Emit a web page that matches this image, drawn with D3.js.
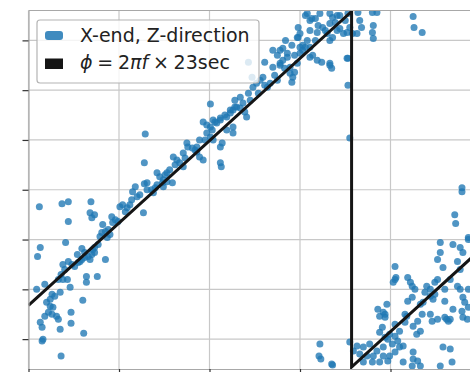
<!DOCTYPE html>
<html>
<head>
<meta charset="utf-8">
<script src="https://cdn.jsdelivr.net/npm/d3@7"></script>
<style>
  html, body { margin: 0; padding: 0; background: #fff; }
  svg { display: block; font-family: 'DejaVu Sans', sans-serif; }
</style>
</head>
<body>
<div id="chart"></div>
<script>
// Frequency (mHz) and measured phase (deg) of the X-end, Z-direction scatter.
const freqMHz = [
  31.2, 33.7, 34.4, 36.9, 34.4, 36.8, 37.3, 37.0, 41.8, 42.8, 31.3, 31.0, 34.1, 35.9, 37.1, 38.5,
  37.6, 36.4, 36.4, 34.6, 30.9, 31.8, 36.0, 34.7, 34.7, 36.1, 33.6, 31.6, 31.5, 31.3, 31.5, 33.5,
  32.6, 32.9, 32.0, 32.4, 32.7, 32.2, 32.6, 33.1, 33.3, 31.8, 33.5, 33.8, 34.4, 34.8, 35.1, 35.5,
  35.9, 36.2, 36.6, 37.0, 37.3, 36.2, 36.8, 35.4, 33.8, 33.3, 34.3, 33.6, 37.7, 37.9, 38.1, 38.5,
  38.8, 39.0, 39.3, 39.6, 39.2, 38.2, 40.1, 40.4, 40.9, 41.4, 42.0, 42.3, 42.7, 43.1, 43.6, 43.8,
  44.2, 44.8, 45.3, 45.9, 44.9, 44.0, 41.5,
  50.1, 42.9, 42.8, 51.2, 51.4, 51.2, 51.3, 49.3, 49.7, 50.4, 50.8, 51.2, 51.7, 52.3, 52.6, 51.9,
  52.6, 47.5, 48.1, 48.6, 48.9, 49.3, 46.0, 46.4, 46.7, 47.1, 44.2, 44.5, 44.9, 45.3, 43.1, 49.7,
  50.1, 50.4,
  45.6, 47.1, 47.6, 48.6, 48.9, 50.1, 50.6, 51.2, 51.9, 52.3, 53.0, 53.7, 52.8, 54.1, 53.9, 53.4,
  54.3, 54.8, 55.2, 55.6, 55.9, 56.4, 56.7, 57.5, 57.0, 57.8, 58.1, 58.6, 58.9, 59.2, 59.4, 59.7,
  57.8, 58.1, 58.6, 60.0, 60.3, 60.6, 60.8, 61.1, 61.4, 61.9, 59.7, 60.0, 61.1, 61.9, 62.5, 63.0,
  63.3, 63.6, 64.1, 64.4, 64.8, 65.2, 63.3, 62.2, 64.1, 60.6, 61.1, 61.7, 60.8, 62.4, 63.3, 63.5,
  65.3, 65.3, 65.8, 65.5, 54.3, 54.7,
  61.3, 63.3, 63.6, 64.4, 65.3, 66.4, 66.6, 68.0, 68.5, 68.1, 68.0, 66.3, 66.8, 68.1, 65.2, 65.5,
  72.5, 72.6, 73.5, 59.8, 59.8, 60.0, 61.1, 63.3, 57.0, 56.1, 57.5, 57.8, 58.9, 59.1, 52.6, 52.8,
  77.9,
  77.2, 78.6, 75.5, 76.9, 77.7, 75.5, 75.2, 75.8, 77.4, 70.5, 70.5, 70.3, 71.9, 72.2, 72.7, 72.4,
  71.9, 74.0, 74.4, 74.9, 75.2, 73.8, 74.4, 74.7, 73.6, 76.0, 77.4, 77.7, 78.0, 78.6, 78.2, 78.6,
  68.6, 69.2, 69.4, 68.8, 69.6, 69.1, 68.8, 69.9, 71.8, 71.6, 72.5, 73.0, 73.5, 74.4, 74.6, 75.2,
  76.0, 76.2, 76.4, 76.6, 78.0, 78.5, 77.9, 76.9, 73.3, 72.9, 71.0, 70.5, 70.8, 70.2, 69.7, 71.4,
  65.5, 66.3, 67.0, 65.9, 66.6, 67.4, 68.0, 67.0, 68.1, 68.5, 69.2, 69.2, 69.9, 68.8, 69.7, 70.5,
  71.0, 71.4, 72.5, 72.5, 73.0, 73.3, 72.4, 75.8, 76.6, 76.8, 75.5, 63.6,
  77.9, 77.1, 78.0, 78.6, 70.6, 72.4, 62.2, 62.1, 62.3, 63.5, 69.4,
  45.1, 46.2, 47.3, 48.4, 49.5, 50.3, 53.4, 54.5, 55.4, 56.1, 57.2, 58.3, 59.4, 60.3, 61.7, 62.8,
  63.9, 65.0, 62.0, 59.1, 58.4,
  32.4, 34.0, 35.7, 37.3, 38.7, 39.9, 40.7, 41.2,
  70.5, 71.6, 73.3, 74.9, 76.6, 77.7, 76.0, 67.7, 69.4
];
const phaseDeg = [
  -17, -14, -12, -12, -32, -23, -25, -28, 3, 6, -58, -67, -53, -59, -60, -70,
  -87, -87, -93, -98, -100, -95, -111, -123, -134, -144, -167, -150, -152, -133, -138, -140,
  -105, -107, -113, -117, -118, -123, -125, -127, -130, -127, -103, -75, -72, -75, -77, -73,
  -70, -68, -67, -65, -63, -63, -70, -65, -90, -90, -90, -85, -55, -47, -43, -42,
  -40, -45, -33, -30, -27, -35, -17, -15, -18, -10, -7, -5, -23, 0, 0, -3,
  5, 7, 8, 7, 3, 2, -2,
  86, 56, 27, 43, 47, 27, 23, 68, 65, 70, 67, 70, 75, 77, 80, 60,
  63, 47, 42, 38, 33, 30, 33, 30, 27, 23, 17, 13, 10, 17, 7, 57,
  53, 50,
  20, 37, 43, 43, 50, 63, 68, 72, 73, 80, 83, 87, 90, 73, 78, 93,
  97, 103, 107, 110, 113, 103, 107, 110, 123, 125, 130, 133, 123, 113, 118, 127,
  140, 142, 137, 137, 140, 143, 150, 133, 135, 130, 153, 157, 160, 158, 163, 157,
  150, 153, 160, 162, 157, 158, 167, 177, 175, 175, 170, 172, 177, 128, 127, 122,
  132, 105, 157, 163, 128, 113,
  172, 177, 173, 175, 177, 178, 170, 178, 178, 165, 158, 157, 163, 152, 132, 52,
  174, 163, 158, 163, 153, 143, 143, 125, 140, 128, 135, 127, 117, 108, 57, 83,
  2,
  -34, -48, -53, -55, -58, -63, -70, -78, -72, -77, -90, -93, -88, -93, -100, -108,
  -112, -97, -100, -93, -90, -103, -107, -110, -113, -112, -97, -100, -108, -100, -113, -118,
  -120, -123, -128, -127, -115, -138, -143, -145, -127, -133, -137, -132, -125, -125, -132, -130,
  -128, -130, -132, -130, -128, -130, -122, -120, -142, -145, -142, -147, -152, -155, -150, -157,
  -153, -157, -158, -162, -165, -167, -173, -173, -167, -162, -158, -167, -167, -173, -172, -163,
  -158, -173, -163, -170, -172, -177, -177, -158, -160, -173, -177, -176,
  -2, -25, -63, -50, -88, -97, -155, -167, -170, -175, -125,
  15, 25, 32, 40, 50, 60, 82, 90, 97, 105, 115, 122, 135, 145, 150, 160,
  168, 170, 165, 145, 150,
  -110, -80, -72, -58, -48, -32, -22, -15,
  -135, -125, -115, -105, -90, -80, -100, -155, -148
];

// Model line phi = 2*pi*f*23sec, wrapped.
const lineFreqMHz = [30, 65.7, 65.7, 80];
const linePhaseDeg = [-116, 179, -178, -59.6];

const xTicks = [30, 40, 50, 60, 70, 80];
const yTicks = [-150, -100, -50, 0, 50, 100, 150];

const legendLabel = 'X-end, Z-direction';

const WIDTH = 470;
const HEIGHT = 372;
const DOT_COLOR = '#1f77b4';
const LINE_COLOR = '#151515';

/**
 * Draw the whole chart.
 */
function drawChart() {
  const margin = {top: 10.5, right: -11, bottom: 3, left: 28.5};
  const svg = d3.select('#chart')
                .append('svg')
                .attr('width', WIDTH)
                .attr('height', HEIGHT);
  const xScale = d3.scaleLinear()
                   .domain([30, 80])
                   .range([margin.left, WIDTH - margin.right]);
  const yScale = d3.scaleLinear()
                   .domain([-180, 180])
                   .range([HEIGHT - margin.bottom, margin.top]);

  svg.append('defs').append('clipPath')
     .attr('id', 'plot-clip')
     .append('rect')
     .attr('x', margin.left)
     .attr('y', margin.top)
     .attr('width', WIDTH - margin.right - margin.left)
     .attr('height', HEIGHT - margin.bottom - margin.top);

  drawGrid(svg, xScale, yScale);
  drawPoints(svg, xScale, yScale);
  drawLine(svg, xScale, yScale);
  drawAxes(svg, xScale, yScale);
  drawLegend(svg);
}

/**
 * Light gray grid lines behind the data.
 */
function drawGrid(svg, xScale, yScale) {
  const [y0, y1] = yScale.range();
  const [x0, x1] = xScale.range();
  const grid = svg.append('g').attr('class', 'grid');
  grid.selectAll('.vgrid')
      .data(xTicks)
      .enter()
      .append('line')
      .attr('x1', (d) => xScale(d))
      .attr('x2', (d) => xScale(d))
      .attr('y1', y0)
      .attr('y2', y1)
      .attr('stroke', '#c8c8c8')
      .attr('stroke-width', 1.2);
  grid.selectAll('.hgrid')
      .data(yTicks)
      .enter()
      .append('line')
      .attr('x1', x0)
      .attr('x2', x1)
      .attr('y1', (d) => yScale(d))
      .attr('y2', (d) => yScale(d))
      .attr('stroke', '#c8c8c8')
      .attr('stroke-width', 1.2);
}

/**
 * Scatter of the measured phase.
 */
function drawPoints(svg, xScale, yScale) {
  const points = freqMHz.map((f, i) => ({f: f, p: phaseDeg[i]}));
  svg.append('g')
     .attr('clip-path', 'url(#plot-clip)')
     .selectAll('circle')
     .data(points)
     .enter()
     .append('circle')
     .attr('cx', (d) => xScale(d.f))
     .attr('cy', (d) => yScale(d.p))
     .attr('r', 3.5)
     .attr('fill', DOT_COLOR)
     .attr('fill-opacity', 0.78);
}

/**
 * Sawtooth model line.
 */
function drawLine(svg, xScale, yScale) {
  const linePoints = lineFreqMHz.map((f, i) => [f, linePhaseDeg[i]]);
  const line = d3.line()
                 .x((d) => xScale(d[0]))
                 .y((d) => yScale(d[1]));
  svg.append('path')
     .attr('clip-path', 'url(#plot-clip)')
     .attr('d', line(linePoints))
     .attr('fill', 'none')
     .attr('stroke', LINE_COLOR)
     .attr('stroke-width', 3);
}

/**
 * Spines and tick marks (tick labels lie outside the picture).
 */
function drawAxes(svg, xScale, yScale) {
  const yAxis = d3.axisLeft(yScale)
                  .tickValues(yTicks)
                  .tickSize(6)
                  .tickSizeOuter(0)
                  .tickFormat('');
  const xAxis = d3.axisBottom(xScale)
                  .tickValues(xTicks)
                  .tickSize(6)
                  .tickSizeOuter(0)
                  .tickFormat('');
  const left = svg.append('g')
                  .attr('transform', 'translate(' + xScale.range()[0] + ',0)')
                  .call(yAxis);
  const bottom = svg.append('g')
                    .attr('transform', 'translate(0,' + yScale.range()[0] + ')')
                    .call(xAxis);
  [left, bottom].forEach((g) => {
    g.select('.domain').attr('stroke', '#a8a8a8').attr('stroke-width', 1.2);
    g.selectAll('.tick line').attr('stroke', '#333').attr('stroke-width', 1.2);
  });
  svg.append('line')
     .attr('x1', xScale.range()[0])
     .attr('x2', xScale.range()[1])
     .attr('y1', yScale.range()[1])
     .attr('y2', yScale.range()[1])
     .attr('stroke', '#a8a8a8')
     .attr('stroke-width', 1.2);
}

/**
 * Legend box with the two entries.
 */
function drawLegend(svg) {
  const box = {x: 37, y: 20, w: 222, h: 63};
  const legend = svg.append('g').attr('class', 'legend');
  legend.append('rect')
        .attr('x', box.x)
        .attr('y', box.y)
        .attr('width', box.w)
        .attr('height', box.h)
        .attr('rx', 3)
        .attr('fill', '#fff')
        .attr('fill-opacity', 0.8)
        .attr('stroke', '#b4b4b4')
        .attr('stroke-width', 1.2);
  legend.append('rect')
        .attr('x', 45)
        .attr('y', 31)
        .attr('width', 18)
        .attr('height', 9)
        .attr('rx', 3)
        .attr('fill', DOT_COLOR)
        .attr('fill-opacity', 0.85);
  legend.append('rect')
        .attr('x', 45)
        .attr('y', 58.5)
        .attr('width', 18)
        .attr('height', 10.5)
        .attr('fill', LINE_COLOR);
  legend.append('text')
        .attr('x', 80)
        .attr('y', 41.5)
        .attr('font-size', 19)
        .attr('fill', '#222')
        .text(legendLabel);
  const math = legend.append('text')
                     .attr('x', 80)
                     .attr('y', 69)
                     .attr('font-size', 19)
                     .attr('fill', '#222');
  math.append('tspan').attr('font-style', 'italic').text('\u03D5');
  math.append('tspan').text('\u2005=\u20052');
  math.append('tspan').attr('font-style', 'italic').text('\u03C0f');
  math.append('tspan').text('\u2005\u00D7\u200523sec');
}

drawChart();
</script>
</body>
</html>
